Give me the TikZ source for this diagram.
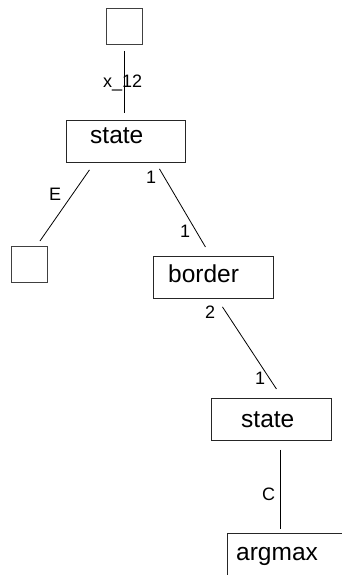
\documentclass[tikz,border=0pt]{standalone}
\usepackage{fontspec}
\setmainfont{Liberation Sans}
\begin{document}
\begin{tikzpicture}[x=1pt,y=-1pt,
  box/.style={draw=black!85,line width=0.9pt,minimum width=#1,minimum height=42pt,inner sep=0pt,anchor=north west},
  sq/.style={draw=black!75,line width=0.9pt,minimum width=36pt,minimum height=36pt,inner sep=0pt,anchor=north west},
  txt/.style={font=\fontsize{24.5}{28}\selectfont,inner sep=0pt,anchor=base west},
  lab/.style={font=\fontsize{18}{20}\selectfont,inner sep=0pt,anchor=base west},
  conn/.style={line width=0.8pt}]
\useasboundingbox (0,0) rectangle (342,575);
\clip (0,0) rectangle (342,575);
\fill[white] (0,0) rectangle (342,575);
% nodes
\node[sq] (top) at (106,8) {};
\node[box=119pt] (s1) at (66,120) {};
\node[sq] (left) at (11,246) {};
\node[box=120pt] (b) at (153,256) {};
\node[box=120pt] (s2) at (211,398) {};
\node[box=130pt,minimum height=50pt] (am) at (227,533) {};
% texts
\node[txt] (t1) at (90,143) {state};
\node[txt] (t2) at (168,282) {border};
\node[txt] (t3) at (241,427) {state};
\node[txt] (t4) at (236,560) {argmax};
% connectors
\draw[conn] ([yshift=-6pt]top.south) -- ([xshift=-1.5pt,yshift=7pt]s1.north);
\draw[conn] ([xshift=-36.5pt,yshift=-7pt]s1.south) -- ([xshift=10.5pt,yshift=5pt]left.north);
\draw[conn] ([xshift=33.5pt,yshift=-6pt]s1.south) -- ([xshift=-8pt,yshift=9pt]b.north);
\draw[conn] ([xshift=9pt,yshift=-8pt]b.south) -- ([xshift=5pt,yshift=9pt]s2.north);
\draw[conn] ([xshift=9pt,yshift=-9pt]s2.south) -- ([xshift=-12pt,yshift=4pt]am.north);
% labels
\node[lab] (lx) at (103,88) {x\_12};
\node[lab] (lE) at (49,200) {E};
\node[lab] (l1a) at (146,183) {1};
\node[lab] (l1b) at (180,237) {1};
\node[lab] (l2) at (205,318) {2};
\node[lab] (l1c) at (255,384) {1};
\node[lab] (lC) at (262,500) {C};
\end{tikzpicture}
\end{document}
